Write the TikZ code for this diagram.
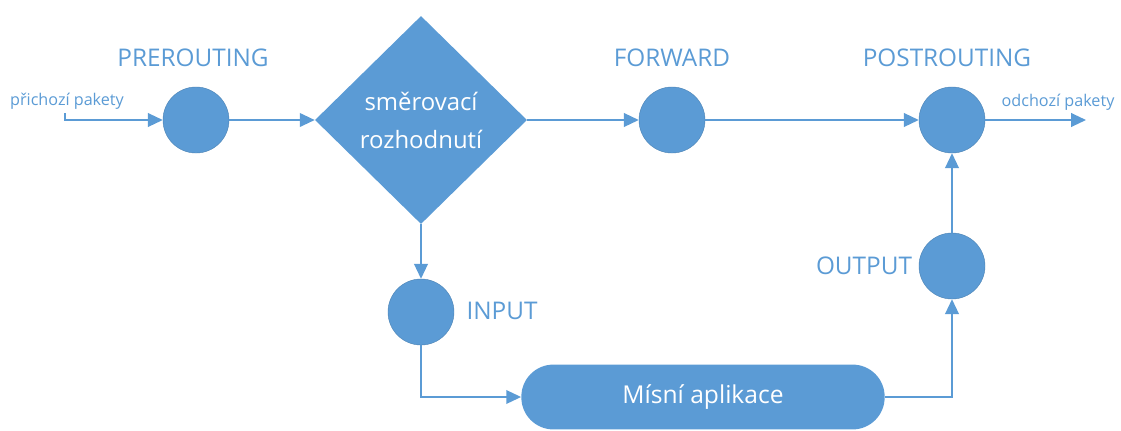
\documentclass[tikz,border=0pt]{standalone}
\usepackage{fontspec}
\setmainfont{Open Sans}
\usetikzlibrary{shapes.geometric,arrows.meta,positioning}
\definecolor{hookblue}{HTML}{5B9BD5}
\tikzset{
	hook/.style={circle, fill=hookblue, draw=hookblue!85!black, line width=0.3pt, minimum size=1.65cm, inner sep=0pt},
	hooklabel/.style={text=hookblue, font=\fontsize{17.3}{19}\selectfont},
	smalllabel/.style={text=hookblue, font=\fontsize{11.5}{13}\selectfont},
	flow/.style={draw=hookblue, line width=1.2pt, -{Triangle[length=0.37cm,width=0.34cm]}}
}
\begin{document}
\begin{tikzpicture}[x=0.025cm, y=-0.025cm]
				\useasboundingbox (0,0) rectangle (1121,430);
				\node[hook] (pre) at (196,120) {};
				\node[diamond, fill=hookblue, inner sep=0pt, minimum width=5.3cm, minimum height=5.2cm, text=white, align=center, font=\fontsize{17}{27}\selectfont] (route) at (421,120) {směrovací\\rozhodnutí};
				\node[hook] (fwd) at (672,120) {};
				\node[hook] (post) at (952,120) {};
				\node[hook] (outp) at (952,266) {};
				\node[hook] (inp) at (421,312) {};
				\node[rectangle, rounded corners=0.8cm, fill=hookblue, minimum width=9.08cm, minimum height=1.62cm, text=white, font=\fontsize{17.5}{20}\selectfont] (app) at (703,397) {Mísní aplikace};
				\node[hooklabel] (lblpre) at (193,58) {PREROUTING};
				\node[hooklabel] (lblfwd) at (672,58) {FORWARD};
				\node[hooklabel] (lblpost) at (947,58) {POSTROUTING};
				\node[hooklabel] (lblout) at (864,266) {OUTPUT};
				\node[hooklabel] (lblin) at (502,311) {INPUT};
				\node[smalllabel] (lblinc) at (67,101) {přichozí pakety};
				\node[smalllabel] (lblexit) at (1058,102) {odchozí pakety};
				\coordinate (src) at (65,113);
				\coordinate (dst) at (1086,120);
				\draw[flow] (src) |- (pre);
				\draw[flow] (pre) -- (route);
				\draw[flow] (route) -- (fwd);
				\draw[flow] (fwd) -- (post);
				\draw[flow] (post) -- (dst);
				\draw[flow] (route) -- (inp);
				\draw[flow] (inp) |- (app);
				\draw[flow] (app) -| (outp);
				\draw[flow] (outp) -- (post);
			\end{tikzpicture}
\end{document}
